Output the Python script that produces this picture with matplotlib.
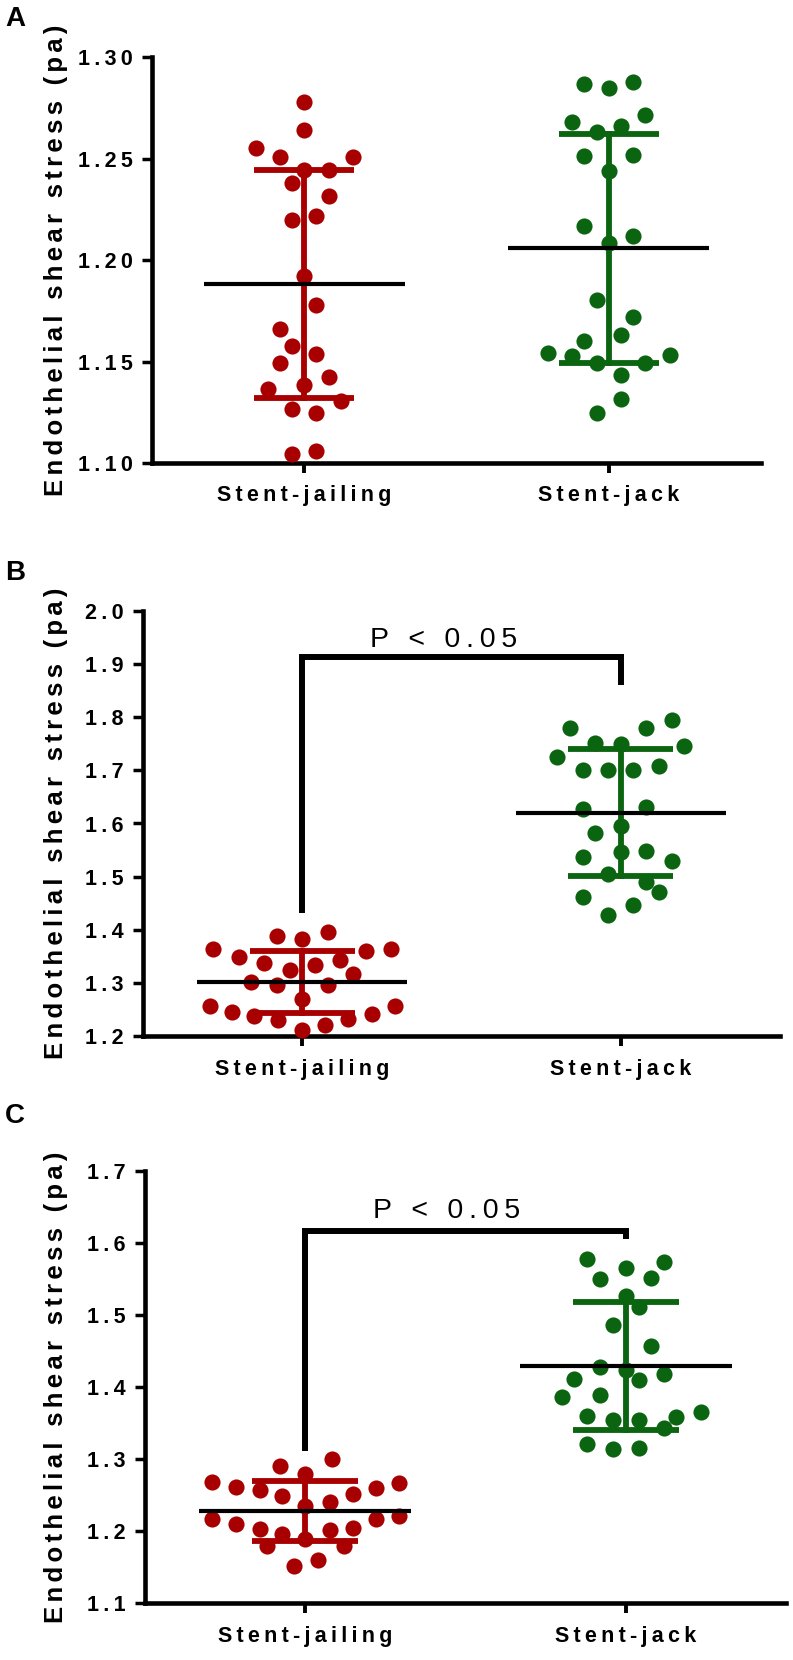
import numpy as np
import matplotlib.pyplot as plt

plt.rcParams['font.family'] = ['Liberation Sans', 'DejaVu Sans']

groups = ['Stent-jailing', 'Stent-jack']
colors = ['#a80000', '#0a6410']
ylabel = 'Endothelial shear stress (pa)'
p_label = 'P < 0.05'

# ---- panel A ----
a_jail = [1.2778, 1.2639, 1.2552, 1.2506, 1.2507, 1.2445, 1.2443, 1.2379, 1.2317,
          1.2218, 1.2195, 1.1920, 1.1780, 1.1662, 1.1575, 1.1539, 1.1493, 1.1424,
          1.1386, 1.1365, 1.1307, 1.1266, 1.1246, 1.1044, 1.1057]
a_jail_dx = [0, 0, -0.16, -0.08, 0.16, 0, 0.08, -0.04, 0.08, 0.04, -0.04, 0, 0.04,
             -0.08, -0.04, 0.04, -0.08, 0.08, 0, -0.12, 0.12, -0.04, 0.04, -0.04, 0.04]
a_jack = [1.2867, 1.2847, 1.2877, 1.2678, 1.2713, 1.2631, 1.2658, 1.2514, 1.2516,
          1.2440, 1.2169, 1.2117, 1.2084, 1.1805, 1.1719, 1.1632, 1.1599, 1.1542,
          1.1525, 1.1534, 1.1493, 1.1493, 1.1435, 1.1315, 1.1246]
a_jack_dx = [-0.08, 0, 0.08, -0.12, 0.12, -0.04, 0.04, -0.08, 0.08, 0, -0.08, 0.08, 0,
             -0.04, 0.08, 0.04, -0.08, -0.2, -0.12, 0.2, -0.04, 0.12, 0.04, 0.04, -0.04]
a_mean = [1.1882, 1.2057]
a_sd = [0.0561, 0.0565]
a_yticks = [1.10, 1.15, 1.20, 1.25, 1.30]

# ---- panel B ----
b_jail = [1.3645, 1.3488, 1.3884, 1.3821, 1.3959, 1.3601, 1.3645, 1.3375, 1.3237,
          1.3331, 1.3425, 1.3017, 1.2967, 1.2967, 1.3174, 1.2703, 1.2559, 1.2452,
          1.2370, 1.2295, 1.2107, 1.2213, 1.2326, 1.2421, 1.2559]
b_jail_dx = [-0.28, -0.2, -0.08, 0, 0.08, 0.2, 0.28, -0.12, -0.04, 0.04, 0.12, -0.16,
             -0.08, 0.08, 0.16, 0, -0.29, -0.22, -0.15, -0.075, 0, 0.07, 0.145, 0.22, 0.29]
b_jack = [1.7802, 1.7790, 1.7947, 1.7507, 1.7495, 1.7457, 1.7243, 1.7005, 1.7005,
          1.7005, 1.7080, 1.6264, 1.6314, 1.5950, 1.5824, 1.5372, 1.5466, 1.5479,
          1.5290, 1.5058, 1.4901, 1.4713, 1.4619, 1.4462, 1.4273]
b_jack_dx = [-0.16, 0.08, 0.16, -0.08, 0, 0.2, -0.2, -0.12, -0.04, 0.04, 0.12, -0.12,
             0.08, 0, -0.08, -0.12, 0, 0.08, 0.16, -0.04, 0.08, 0.12, -0.12, 0.04, -0.04]
b_mean = [1.3017, 1.6207]
b_sd = [0.0581, 0.1187]
b_yticks = [1.2, 1.3, 1.4, 1.5, 1.6, 1.7, 1.8, 1.9, 2.0]
b_bracket = [1.432, 1.913, 1.861]

# ---- panel C ----
c_jail = [1.2677, 1.2611, 1.2569, 1.2904, 1.2791, 1.2997, 1.2508, 1.2595, 1.2662,
          1.2492, 1.2353, 1.2405, 1.2173, 1.2096, 1.2029, 1.1952, 1.1890, 1.2019,
          1.2045, 1.2173, 1.2209, 1.1787, 1.1787, 1.1520, 1.1592]
c_jail_dx = [-0.29, -0.217, -0.142, -0.079, 0, 0.082, 0.15, 0.22, 0.294, -0.074, 0,
             0.076, -0.29, -0.217, -0.142, -0.074, 0, 0.076, 0.15, 0.22, 0.294,
             -0.118, 0.121, -0.036, 0.041]
c_jack = [1.5775, 1.5657, 1.5739, 1.5503, 1.5508, 1.5261, 1.5106, 1.4864, 1.4576,
          1.4283, 1.4232, 1.4113, 1.4180, 1.4093, 1.3856, 1.3887, 1.3655, 1.3588,
          1.3599, 1.3547, 1.3547, 1.3434, 1.3202, 1.3141, 1.3151]
c_jack_dx = [-0.12, 0, 0.12, -0.08, 0.08, 0, 0.04, -0.04, 0.08, -0.08, 0, -0.16, 0.12,
             0.04, -0.2, -0.08, 0.236, 0.157, -0.12, -0.04, 0.04, 0.12, -0.12, -0.04, 0.04]
c_mean = [1.2276, 1.4293]
c_sd = [0.0417, 0.0888]
c_yticks = [1.1, 1.2, 1.3, 1.4, 1.5, 1.6, 1.7]
c_bracket = [1.311, 1.616, 1.605]


def spaced(s, sp='\u2009'):
    return sp.join(s)


fig = plt.figure(figsize=(7.93, 16.6), dpi=100)
W, H = 793, 1660


def panel(box, letter, letter_y, vals, dxs, means, sds, yticks, fmt, bracket=None, p_xy=None):
    left, top, right, bottom = box
    ax = fig.add_axes([left / W, (H - bottom) / H, (right - left) / W, (bottom - top) / H])
    for i in range(2):
        ax.scatter(i + np.array(dxs[i]), vals[i], s=135, color=colors[i],
                   linewidths=0, zorder=3, clip_on=False)
        m, s = means[i], sds[i]
        ax.plot([i, i], [m - s, m + s], color=colors[i], lw=4.2, zorder=4)
        for yy in (m - s, m + s):
            ax.plot([i - 0.165, i + 0.165], [yy, yy], color=colors[i], lw=4.2,
                    zorder=4, solid_capstyle='butt')
        ax.plot([i - 0.33, i + 0.33], [m, m], color='black', lw=3, zorder=5,
                solid_capstyle='butt')
    if bracket is not None:
        ax.plot([0, 0, 1, 1], [bracket[0], bracket[1], bracket[1], bracket[2]],
                color='black', lw=4.3, solid_joinstyle='miter', solid_capstyle='butt',
                zorder=5, clip_on=False)
        ax.text(p_xy[0], p_xy[1], spaced(p_label), ha='center', va='bottom',
                fontsize=20.5)
    ax.set_xlim(-0.5, 1.5)
    ax.set_ylim(yticks[0], yticks[-1])
    ax.set_yticks(yticks)
    ax.set_yticklabels([spaced(fmt.format(t)) for t in yticks], fontsize=15.5,
                       fontweight='bold')
    ax.set_xticks([0, 1])
    ax.set_xticklabels([spaced(g) for g in groups], fontsize=15.5, fontweight='bold')
    ax.tick_params(axis='y', length=7, width=2.5, pad=7)
    ax.tick_params(axis='x', length=7.2, width=2.8, pad=9)
    for side in ('top', 'right'):
        ax.spines[side].set_visible(False)
    for side in ('left', 'bottom'):
        ax.spines[side].set_linewidth(3.3)
        ax.spines[side].set_capstyle('projecting')
    cy = (top + bottom) / 2
    fig.text(56 / W, (H - cy) / H, spaced(ylabel, '\u2006'), rotation=90,
             ha='center', va='center', fontsize=18.5, fontweight='bold')
    fig.text(5 / W, (H - letter_y) / H, letter, ha='left', va='center',
             fontsize=20, fontweight='bold')
    return ax


panel((152, 57, 761, 463), 'A', 19, [a_jail, a_jack], [a_jail_dx, a_jack_dx],
      a_mean, a_sd, a_yticks, '{:.2f}')
panel((143, 611, 780, 1036), 'B', 573, [b_jail, b_jack], [b_jail_dx, b_jack_dx],
      b_mean, b_sd, b_yticks, '{:.1f}', bracket=b_bracket, p_xy=(0.445, 1.921))
panel((145, 1171, 786, 1603), 'C', 1116, [c_jail, c_jack], [c_jail_dx, c_jack_dx],
      c_mean, c_sd, c_yticks, '{:.1f}', bracket=c_bracket, p_xy=(0.44, 1.627))

fig.savefig('out.png', dpi=100)
